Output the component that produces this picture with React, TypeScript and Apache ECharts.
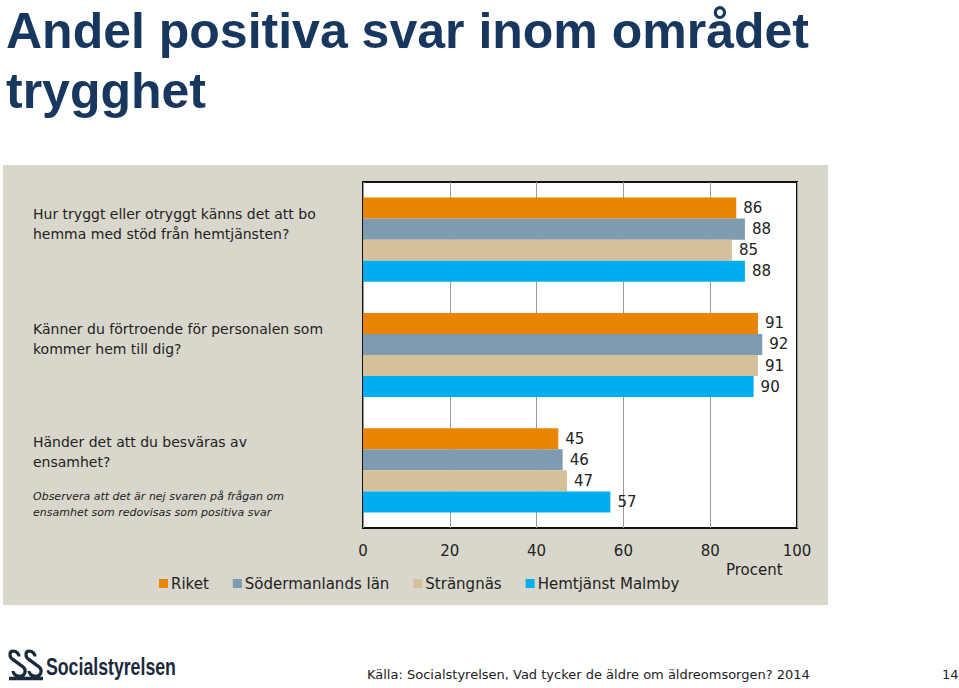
import React, { useEffect, useRef } from "react";
import * as echarts from "echarts";

const categories = [
  "Hur tryggt eller otryggt känns det att bo hemma med stöd från hemtjänsten?",
  "Känner du förtroende för personalen som kommer hem till dig?",
  "Händer det att du besväras av ensamhet?",
];
const seriesNames = ["Riket", "Södermanlands län", "Strängnäs", "Hemtjänst Malmby"];
const riket = [86, 91, 45];
const sodermanland = [88, 92, 46];
const strangnas = [85, 91, 47];
const malmby = [88, 90, 57];
const xTicks = [0, 20, 40, 60, 80, 100];
const colors = ["#E88400", "#7F9BAF", "#D4C09A", "#00AEEF"];
const note = ["Observera att det är nej svaren på frågan om", "ensamhet som redovisas som positiva svar"];

const FONT = "DejaVu Sans";

export default function App() {
  const ref = useRef<HTMLDivElement>(null);
  useEffect(() => {
    if (!ref.current) return;
    const chart = echarts.init(ref.current, null, { renderer: "svg" });
    echarts.graphic.registerShape(
      "sslogo",
      echarts.graphic.extendPath(
        "M6 3 C2 3 2 9 6 11 L16 18 C20 21 18 27 13 27 C8 27 6 24 6 22 M6 3 C10 3 12 6 12 8 M22 3 C18 3 18 9 22 11 L32 18 C36 21 34 27 29 27 C24 27 22 24 22 22 M22 3 C26 3 28 6 28 8 M2 29 L36 29",
        {}
      )
    );
    const data = [riket, sodermanland, strangnas, malmby];
    const labelFor = (v: string) => {
      if (v === categories[0]) {
        return "{a|Hur tryggt eller otryggt känns det att bo}\n{a|hemma med stöd från hemtjänsten?}\n{s| }";
      }
      if (v === categories[1]) {
        return "{a|Känner du förtroende för personalen som}\n{a|kommer hem till dig?}\n{s| }";
      }
      return (
        "{t| }\n{a|Händer det att du besväras av}\n{a|ensamhet?}\n{g| }\n{n|" +
        note[0] +
        "}\n{n|" +
        note[1] +
        "}"
      );
    };
    chart.setOption({
      animation: false,
      textStyle: { fontFamily: FONT },
      title: {
        text: "Andel positiva svar inom området\ntrygghet",
        left: 1,
        top: -4,
        textStyle: {
          fontFamily: "Liberation Sans",
          fontWeight: "bold",
          fontSize: 50,
          lineHeight: 60,
          color: "#17375E",
        },
      },
      legend: {
        left: 154,
        top: 571,
        itemWidth: 9,
        itemHeight: 9,
        itemGap: 24,
        icon: "rect",
        data: seriesNames,
        textStyle: { fontFamily: FONT, fontSize: 15, color: "#222", padding: [0, 0, 0, -2] },
      },
      grid: {
        left: 363,
        top: 182,
        width: 434,
        height: 346,
        show: true,
        backgroundColor: "#ffffff",
        borderColor: "#111111",
        borderWidth: 2,
        containLabel: false,
      },
      xAxis: {
        type: "value",
        min: 0,
        max: 100,
        interval: 20,
        data: xTicks,
        axisLine: { show: false },
        axisTick: { show: false },
        splitLine: { show: true, lineStyle: { color: "#9a9a9a", width: 1 } },
        axisLabel: { fontFamily: FONT, fontSize: 15, color: "#222", margin: 15 },
      },
      yAxis: {
        type: "category",
        data: categories,
        inverse: true,
        axisLine: { show: false },
        axisTick: { show: false },
        axisLabel: {
          margin: 330,
          align: "left",
          formatter: labelFor,
          rich: {
            a: { fontFamily: FONT, fontSize: 14, lineHeight: 20, color: "#222" },
            s: { fontSize: 10, lineHeight: 32 },
            t: { fontSize: 10, lineHeight: 12 },
            g: { fontSize: 10, lineHeight: 16 },
            n: { fontFamily: FONT, fontStyle: "italic", fontSize: 11, lineHeight: 16, color: "#222" },
          },
        },
      },
      series: seriesNames.map((name, i) => ({
        name,
        type: "bar",
        data: data[i],
        barGap: "0%",
        barCategoryGap: "27%",
        itemStyle: { color: colors[i] },
        label: {
          show: true,
          position: "right",
          distance: 7,
          fontFamily: FONT,
          fontSize: 15,
          color: "#222",
        },
      })),
      graphic: [
        {
          type: "rect",
          z: -10,
          shape: { x: 3, y: 165, width: 825, height: 440 },
          style: { fill: "#D9D7CC" },
        },
        {
          type: "text",
          x: 726,
          y: 562,
          style: { text: "Procent", font: `15px "${FONT}"`, fill: "#222" },
        },
        {
          type: "sslogo",
          x: 7,
          y: 648,
          scaleX: 1,
          scaleY: 1.05,
          style: { stroke: "#1B2A3A", lineWidth: 3.2, fill: null },
        },
        {
          type: "text",
          x: 46,
          y: 655,
          scaleX: 0.77,
          style: {
            text: "Socialstyrelsen",
            font: 'bold 23px "Liberation Sans"',
            fill: "#1B2A3A",
          },
        },
        {
          type: "text",
          x: 367,
          y: 668,
          style: {
            text: "Källa: Socialstyrelsen, Vad tycker de äldre om äldreomsorgen? 2014",
            font: `13px "${FONT}"`,
            fill: "#222",
          },
        },
        {
          type: "text",
          x: 942,
          y: 668,
          style: { text: "14", font: `13px "${FONT}"`, fill: "#222" },
        },
      ],
    });
    return () => chart.dispose();
  }, []);
  return (
    <div
      ref={ref}
      style={{ position: "absolute", left: 0, top: 0, width: 959, height: 688, background: "#fff" }}
    />
  );
}
